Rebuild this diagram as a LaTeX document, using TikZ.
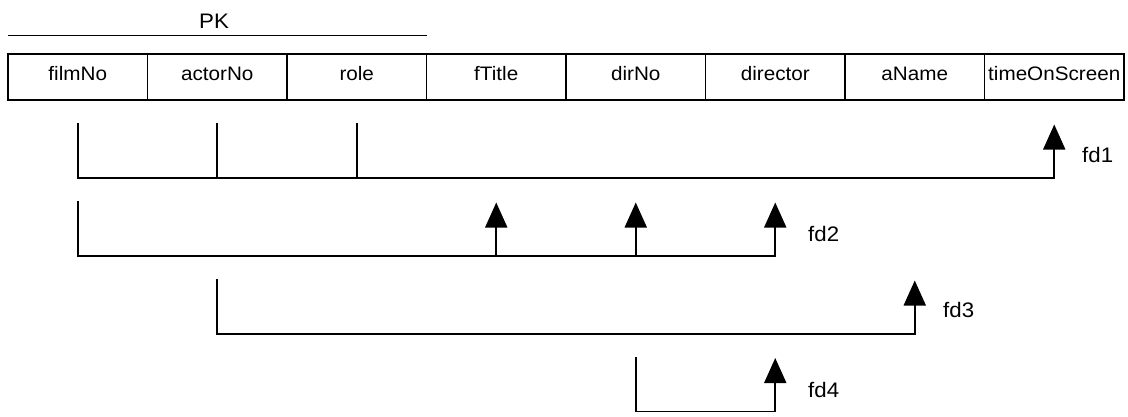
\documentclass[tikz,border=0pt]{standalone}
\usepackage{fontspec}
\setmainfont[FakeStretch=1.06]{Liberation Sans}
\usetikzlibrary{arrows.meta}
\usetikzlibrary{positioning}
\tikzset{
    cell/.style={
           rectangle,
           draw=black, line width=1.8pt,
           minimum width=139.5pt,
           minimum height=46pt,
           inner sep=0pt, outer sep=0pt,
           text height=13.4pt, text depth=6pt,
           font=\fontsize{19.5}{22}\selectfont,
           },
}
\tikzset{
    fd/.style={
           draw=black, line width=1.8pt,
           },
}
\tikzset{
    fdarrow/.style={
           fd,
           -{Triangle[width=22pt,length=25pt]},
           },
}
\tikzset{
    fdlabel/.style={
           anchor=base west,
           inner sep=0pt,
           font=\fontsize{21}{24}\selectfont,
           },
}

\begin{document}
\begin{tikzpicture}[x=1pt,y=-1pt]
\useasboundingbox (0,0) rectangle (1128,416);
\node[cell](filmNo) at (77.75,77){filmNo};
\node[cell,right=0pt of filmNo](actorNo){actorNo};
\node[cell,right=0pt of actorNo](role){role};
\node[cell,right=0pt of role](fTitle){fTitle};
\node[cell,right=0pt of fTitle](dirNo){dirNo};
\node[cell,right=0pt of dirNo](director){director};
\node[cell,right=0pt of director](aName){aName};
\node[cell,right=0pt of aName](timeOnScreen){timeOnScreen};
\node[anchor=base,inner sep=0pt,font=\fontsize{21}{24}\selectfont](pk) at (214,28.3){PK};
\coordinate (pkline) at (0,35.5);
\draw[fd] (filmNo.west |- pkline) -- (fTitle.west |- pkline);
\coordinate (r1) at (0,123);
\coordinate (t1) at (0,124.5);
\coordinate (b1) at (0,178);
\draw[fdarrow] (filmNo |- r1) |- (timeOnScreen |- b1) -- (timeOnScreen |- t1);
\draw[fd] (actorNo |- r1) -- (actorNo |- b1);
\draw[fd] (role |- r1) -- (role |- b1);
\node[fdlabel](fd1) at (1082,162){fd1};
\coordinate (r2) at (0,201);
\coordinate (t2) at (0,202.5);
\coordinate (b2) at (0,256);
\draw[fdarrow] (filmNo |- r2) |- (director |- b2) -- (director |- t2);
\draw[fdarrow] (fTitle |- b2) -- (fTitle |- t2);
\draw[fdarrow] (dirNo |- b2) -- (dirNo |- t2);
\node[fdlabel](fd2) at (808,241.5){fd2};
\coordinate (r3) at (0,279);
\coordinate (t3) at (0,280.5);
\coordinate (b3) at (0,334);
\draw[fdarrow] (actorNo |- r3) |- (aName |- b3) -- (aName |- t3);
\node[fdlabel](fd3) at (943,317){fd3};
\coordinate (r4) at (0,357);
\coordinate (t4) at (0,358);
\coordinate (b4) at (0,411.5);
\draw[fdarrow] (dirNo |- r4) |- (director |- b4) -- (director |- t4);
\node[fdlabel](fd4) at (808,397){fd4};
\end{tikzpicture}
\end{document}
